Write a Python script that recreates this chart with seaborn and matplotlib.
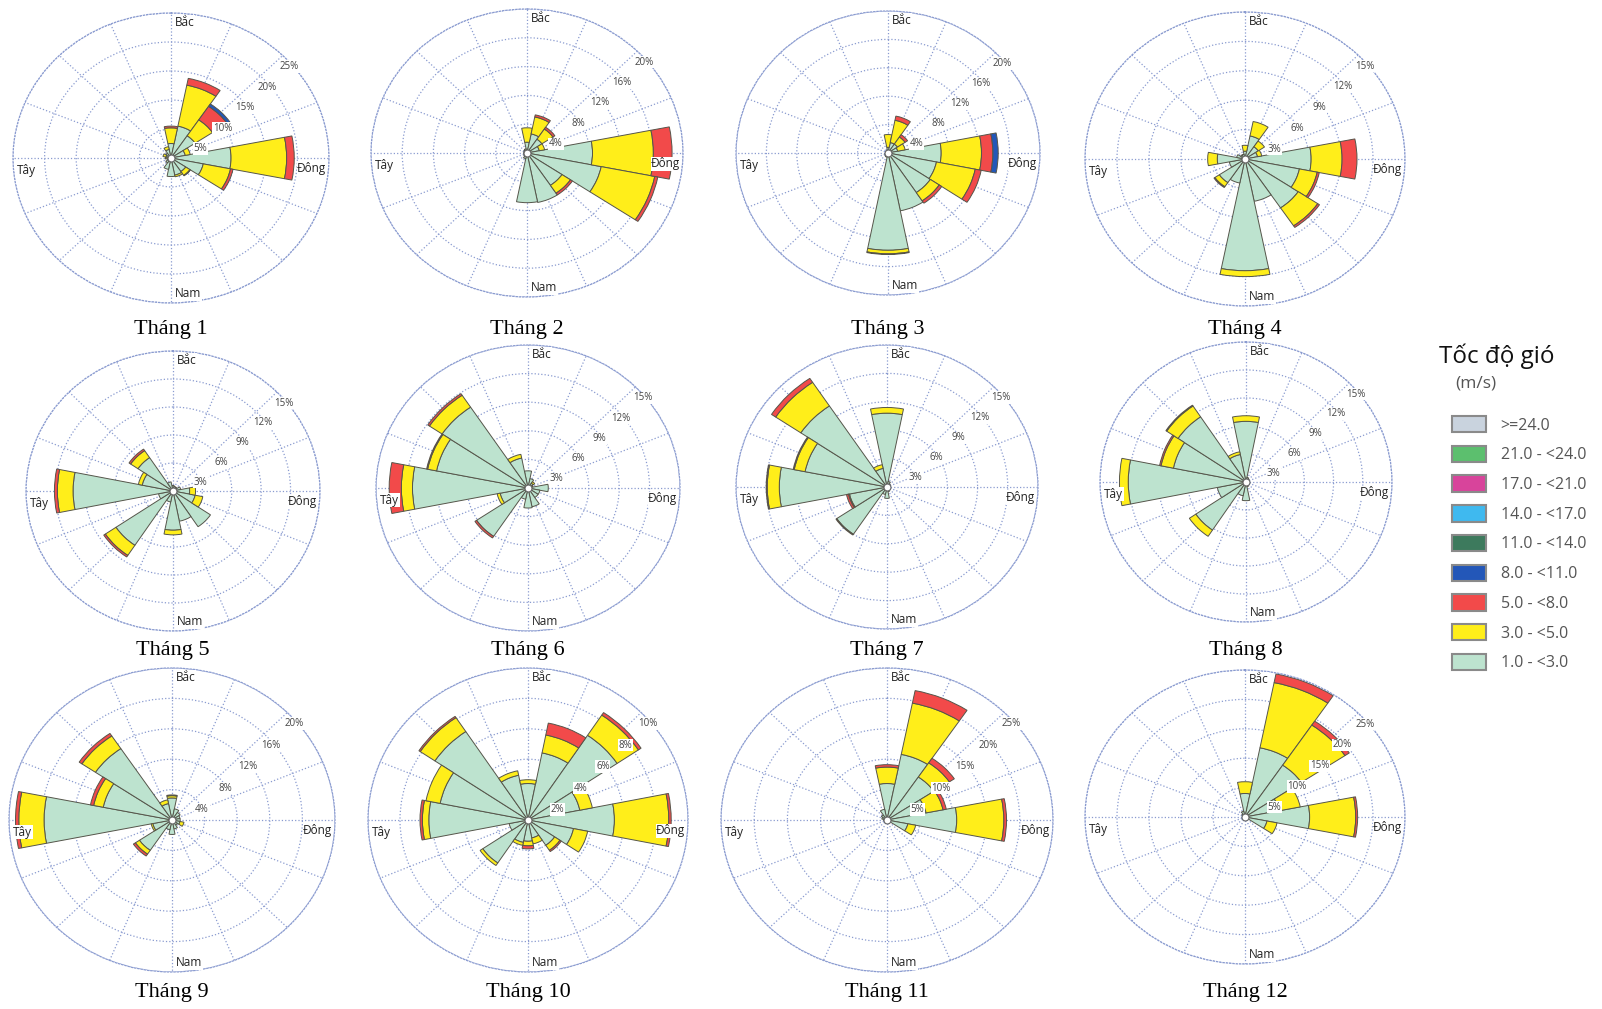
import numpy as np
import matplotlib
matplotlib.use('Agg')
import matplotlib.pyplot as plt
from matplotlib.patches import Patch
import seaborn as sns

sns.set_theme(style='white')
plt.rcParams['font.family'] = ['Open Sans', 'DejaVu Sans']

# 16 huong: N, NNE, NE, ENE, E, ESE, SE, SSE, S, SSW, SW, WSW, W, WNW, NW, NNW
months = ['Tháng %d' % i for i in range(1, 13)]
ring_step = [5, 4, 4, 3, 3, 3, 3, 3, 4, 2, 5, 5]

# tan suat (%) theo cap toc do, moi hang la mot thang
green_1_3 = [
    [2.5, 5.6, 4.6, 2.3, 9.5, 5.2, 2.8, 3.0, 3.2, 2.0, 1.0, 0.6, 0.6, 0.8, 1.0, 1.5],
    [1.5, 2.7, 2.3, 1.6, 8.4, 9.7, 5.4, 7.0, 6.9, 0.8, 0.5, 0.4, 0.4, 0.4, 0.5, 0.6],
    [0.8, 1.5, 1.5, 1.3, 7.0, 6.5, 6.7, 8.3, 13.7, 0.6, 0.5, 0.4, 0.3, 0.3, 0.3, 0.4],
    [0.8, 2.4, 1.5, 1.2, 6.2, 5.2, 6.0, 4.4, 11.4, 2.5, 2.9, 1.5, 2.6, 0.8, 0.5, 0.5],
    [0.6, 0.5, 0.5, 0.8, 1.7, 2.3, 4.6, 3.3, 4.2, 1.2, 7.0, 1.5, 10.2, 3.2, 4.3, 1.0],
    [1.8, 1.0, 0.6, 0.5, 2.0, 1.2, 1.2, 2.0, 2.1, 1.2, 6.1, 2.8, 11.4, 9.2, 10.2, 3.2],
    [7.8, 0.6, 0.4, 0.3, 0.3, 0.3, 0.3, 0.5, 1.2, 0.8, 6.0, 3.8, 10.7, 8.3, 10.3, 2.0],
    [6.5, 0.5, 0.4, 0.3, 0.3, 0.3, 0.3, 0.5, 2.0, 1.5, 6.2, 3.0, 12.1, 7.6, 8.4, 3.0],
    [2.9, 1.5, 1.2, 1.0, 1.0, 1.0, 0.8, 1.2, 1.9, 1.3, 4.8, 2.4, 15.7, 8.6, 11.3, 2.2],
    [2.4, 4.5, 6.7, 3.3, 5.4, 2.9, 2.0, 1.2, 1.4, 1.5, 3.4, 1.2, 6.2, 5.6, 7.0, 3.0],
    [6.0, 11.0, 8.5, 6.0, 10.5, 3.2, 0.6, 0.4, 0.3, 0.3, 0.3, 0.3, 0.5, 0.8, 1.0, 1.8],
    [4.0, 12.0, 10.6, 5.5, 10.1, 3.5, 0.5, 0.3, 0.3, 0.2, 0.2, 0.2, 0.3, 0.4, 0.6, 1.0],
]
yellow_3_5 = [
    [2.7, 7.2, 3.3, 0.8, 8.8, 4.4, 0.8, 0.3, 0, 0, 0, 0, 0.3, 0.5, 0, 0.5],
    [2.0, 2.4, 1.7, 0.7, 7.8, 7.0, 1.3, 0, 0, 0, 0, 0, 0, 0, 0, 0],
    [1.8, 3.2, 1.2, 1.0, 5.3, 5.2, 1.4, 0, 0.5, 0, 0, 0, 0, 0, 0, 0],
    [0.6, 1.5, 0.7, 0.4, 2.9, 1.7, 2.2, 0, 0.6, 0, 0.5, 0, 0.9, 0, 0, 0],
    [0, 0, 0, 0, 0.6, 0.8, 0, 0, 0.5, 0, 1.3, 0, 1.6, 0.4, 0.9, 0],
    [0, 0, 0.2, 0, 0, 0, 0, 0, 0, 0, 0, 0.3, 1.1, 0.9, 1.5, 0.4],
    [0.6, 0, 0, 0, 0, 0, 0, 0, 0, 0, 0, 0.1, 1.2, 1.1, 3.0, 0.4],
    [0.6, 0, 0, 0, 0, 0, 0, 0, 0, 0, 0.8, 0, 0.9, 1.3, 1.4, 0.3],
    [0.3, 0, 0, 0, 0, 0.5, 0, 0, 0, 0, 0.6, 0.2, 3.1, 1.2, 2.0, 0.5],
    [0.25, 1.2, 1.6, 0.8, 3.4, 0.9, 0.4, 0.4, 0.3, 0.2, 0.2, 0, 0.4, 0.9, 1.1, 0.3],
    [2.7, 8.6, 2.8, 2.6, 7.1, 1.2, 0, 0, 0, 0, 0, 0, 0, 0, 0, 0],
    [2.0, 11.3, 8.2, 3.3, 7.2, 1.6, 0, 0, 0, 0, 0, 0, 0, 0, 0, 0],
]
red_5_8 = [
    [0.3, 1.2, 2.8, 0, 1.2, 0.4, 0.1, 0, 0, 0, 0, 0, 0, 0, 0, 0],
    [0, 0.3, 0.3, 0, 2.4, 0.4, 0.3, 0, 0, 0, 0, 0, 0, 0, 0, 0],
    [0, 0.6, 0.4, 0, 1.5, 0.8, 0.4, 0, 0.1, 0, 0, 0, 0, 0, 0, 0],
    [0, 0, 0, 0, 1.4, 0.2, 0.2, 0, 0, 0, 0.1, 0, 0, 0, 0, 0],
    [0, 0, 0, 0, 0, 0, 0, 0, 0, 0, 0.2, 0, 0.3, 0, 0.2, 0],
    [0, 0, 0, 0, 0, 0, 0, 0, 0, 0, 0.2, 0, 1.2, 0.1, 0.2, 0],
    [0, 0, 0, 0, 0, 0, 0, 0, 0, 0, 0.1, 0.2, 0.1, 0.1, 0.5, 0],
    [0, 0, 0, 0, 0, 0, 0, 0, 0, 0, 0, 0, 0, 0.15, 0.1, 0],
    [0.1, 0, 0, 0, 0, 0, 0, 0, 0, 0, 0.3, 0, 0.4, 0.4, 0.4, 0],
    [0, 0.8, 0.2, 0, 0.15, 0, 0.1, 0, 0.2, 0, 0, 0, 0.15, 0, 0.1, 0],
    [0.4, 2.1, 0.9, 0.5, 0.4, 0, 0, 0, 0, 0, 0, 0, 0, 0, 0, 0],
    [0, 1.5, 0.8, 0, 0.3, 0, 0, 0, 0, 0, 0, 0, 0, 0, 0, 0],
]
blue_8_11 = [
    [0, 0, 0.5, 0, 0, 0, 0, 0, 0, 0, 0, 0, 0, 0, 0, 0],
    [0] * 16,
    [0, 0, 0, 0, 0.7, 0, 0, 0, 0, 0, 0, 0, 0, 0, 0, 0],
] + [[0] * 16] * 9

legend_labels = ['>=24.0', '21.0 - <24.0', '17.0 - <21.0', '14.0 - <17.0',
                 '11.0 - <14.0', '8.0 - <11.0', '5.0 - <8.0', '3.0 - <5.0', '1.0 - <3.0']
legend_colors = ['#c9d3de', '#5cbf6e', '#d8449b', '#3fb9ef', '#3d7a5d',
                 '#2357b8', '#f24a4a', '#ffee1a', '#bde3cf']
band_colors = ['#bde3cf', '#ffee1a', '#f24a4a', '#2357b8']

# vi tri (pixel) tam va ban kinh cua tung hoa gio
W, H = 1602, 1009
centers = [(171, 158), (527, 153), (888, 153), (1245, 159),
           (173, 491), (528, 488), (887, 487), (1246, 482),
           (172, 820), (528, 820), (887, 820), (1245, 817)]
rx = [158, 156, 152, 160, 147, 152, 151, 146, 163, 160, 166, 160]
ry = [145, 144, 142, 147, 140, 143, 142, 140, 152, 152, 152, 147]
title_y = [329, 650, 992]

grid_col = '#8a9bd0'
theta = np.deg2rad(np.arange(16) * 22.5)
width = np.deg2rad(22.5)

fig = plt.figure(figsize=(W / 100, H / 100), dpi=100)

for m in range(12):
    cx, cy = centers[m]
    rect = [(cx - rx[m]) / W, 1 - (cy + ry[m]) / H, 2 * rx[m] / W, 2 * ry[m] / H]
    ax = fig.add_axes(rect, projection='polar')
    ax.set_theta_zero_location('N')
    ax.set_theta_direction(-1)
    ax.set_aspect('auto')
    ax.set_axisbelow(True)
    ax.set_facecolor('white')

    step = ring_step[m]
    rmax = 5 * step
    bottom = np.zeros(16)
    for vals, col in zip([green_1_3[m], yellow_3_5[m], red_5_8[m], blue_8_11[m]], band_colors):
        vals = np.array(vals, dtype=float)
        mask = vals > 0
        ax.bar(theta[mask], vals[mask], width=width, bottom=bottom[mask],
               color=col, edgecolor='#55554a', linewidth=0.7, zorder=2)
        bottom += vals

    ax.set_ylim(0, rmax)
    ax.set_yticks(step * np.arange(1, 6))
    ax.set_yticklabels([])
    ax.set_xticks(theta)
    ax.set_xticklabels([])
    ax.tick_params(length=0)
    ax.grid(True, linestyle=':', color=grid_col, linewidth=0.9)
    ax.spines['polar'].set(linestyle=':', color=grid_col, linewidth=0.9)

    ax.plot([0], [0], 'o', ms=5, mfc='white', mec='#666666', mew=0.8, zorder=5)

    for k in range(1, 6):
        ax.annotate('%d%%' % (k * step), xy=(np.deg2rad(45), k * step),
                    xytext=(5, -4), textcoords='offset points', ha='center', va='top',
                    fontsize=7, color='#444444', zorder=6, annotation_clip=False,
                    bbox=dict(fc='white', ec='none', pad=0.5))

    lab_kw = dict(textcoords='offset points', fontsize=8.5, color='#222222',
                  zorder=7, annotation_clip=False,
                  bbox=dict(fc='white', ec='none', pad=0.3))
    ax.annotate('Bắc', xy=(0, rmax), xytext=(3, -2), ha='left', va='top', **lab_kw)
    ax.annotate('Nam', xy=(np.pi, rmax), xytext=(3, 2), ha='left', va='bottom', **lab_kw)
    ax.annotate('Đông', xy=(np.pi / 2, rmax), xytext=(-2, -3), ha='right', va='top', **lab_kw)
    ax.annotate('Tây', xy=(3 * np.pi / 2, rmax), xytext=(3, -4), ha='left', va='top', **lab_kw)

    fig.text(cx / W, 1 - title_y[m // 4] / H, months[m], ha='center', va='center',
             fontsize=16, family=['Liberation Serif', 'DejaVu Serif'], color='black')

# chu giai toc do gio
fig.text(1497 / W, 1 - 356 / H, 'Tốc độ gió', ha='center', va='center',
         fontsize=17.5, color='#111111')
fig.text(1476 / W, 1 - 383 / H, '(m/s)', ha='center', va='center',
         fontsize=12.5, color='#555555')
handles = [Patch(facecolor=c, edgecolor='#8a8a8a', linewidth=1.5) for c in legend_colors]
leg = fig.legend(handles, legend_labels, loc='upper left',
                 bbox_to_anchor=(1452 / W, 1 - 416 / H), frameon=False,
                 fontsize=11.5, handlelength=2.1, handleheight=1.2,
                 labelspacing=0.76, handletextpad=0.95, borderpad=0, borderaxespad=0)
for t in leg.get_texts():
    t.set_color('#555555')

fig.savefig('out.png', dpi=100, facecolor='white')
